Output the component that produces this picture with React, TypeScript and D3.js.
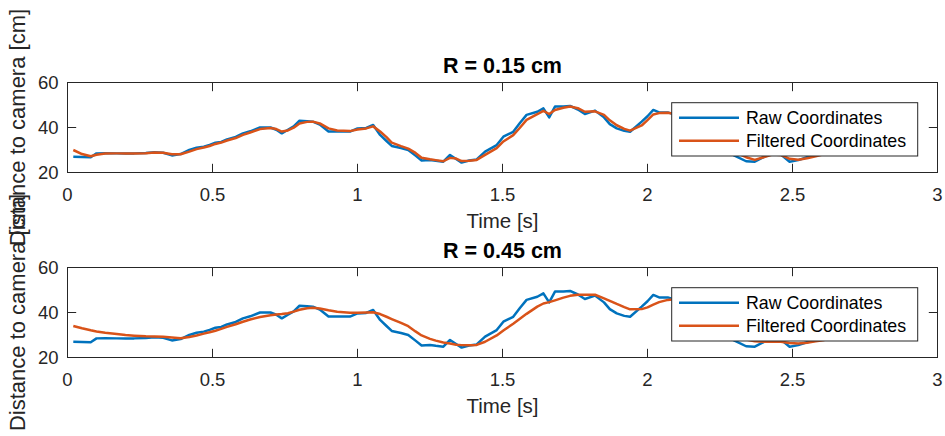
import React from "react";
import * as d3 from "d3";

const times = [0.02,0.05,0.08,0.10,0.13,0.17,0.20,0.23,0.27,0.30,0.33,0.36,0.39,0.42,0.445,0.47,0.49,0.51,0.53,0.55,0.58,0.605,0.63,0.664,0.70,0.72,0.739,0.76,0.78,0.80,0.826,0.846,0.87,0.90,0.93,0.974,1.0,1.03,1.054,1.078,1.10,1.118,1.15,1.175,1.20,1.221,1.25,1.27,1.296,1.319,1.34,1.359,1.385,1.411,1.44,1.48,1.503,1.537,1.56,1.583,1.62,1.641,1.661,1.681,1.71,1.733,1.76,1.784,1.819,1.85,1.87,1.894,1.92,1.94,1.98,2.00,2.02,2.04,2.07,2.10,2.14,2.18,2.22,2.26,2.30,2.34,2.37,2.40,2.43,2.46,2.49,2.52,2.55,2.58,2.61];

const rawCoords = [27.0,26.9,26.8,28.5,28.6,28.5,28.5,28.5,28.7,29.0,28.8,27.6,28.2,30.0,31.0,31.5,32.3,33.2,33.6,34.7,35.8,37.4,38.3,40.0,40.0,39.0,37.4,39.0,40.5,43.0,42.8,42.6,41.3,38.2,38.2,38.2,39.6,39.8,41.1,36.7,34.0,31.8,30.9,30.0,27.5,25.3,25.6,25.2,24.8,27.8,26.0,24.4,25.3,25.8,29.3,32.2,35.9,38.1,42.0,45.6,47.0,48.5,44.5,49.3,49.3,49.6,48.0,46.0,47.5,44.5,41.5,39.6,38.5,38.1,42.6,45.0,47.8,46.7,46.7,45.5,43.5,40.0,35.0,30.5,27.5,25.0,24.8,26.8,28.5,28.0,24.8,25.5,26.8,27.8,28.8];

const filtered015 = [30.0,28.2,27.2,27.9,28.4,28.5,28.5,28.5,28.6,28.9,28.8,28.1,28.1,29.3,30.4,31.1,31.8,32.7,33.3,34.2,35.3,36.7,37.8,39.3,39.8,39.3,38.2,38.7,39.9,41.8,42.5,42.6,41.8,39.6,38.7,38.4,39.1,39.6,40.5,38.2,35.7,33.3,31.7,30.6,28.7,26.6,25.9,25.5,25.0,26.5,26.2,25.1,25.2,25.6,27.8,30.8,33.8,36.6,39.9,43.4,45.9,47.4,46.0,47.8,48.8,49.3,48.6,47.0,47.2,45.6,43.2,41.0,39.4,38.6,40.9,43.3,45.8,46.4,46.6,45.9,44.4,41.6,37.3,32.7,29.2,26.8,25.6,26.8,28.0,27.8,26.1,25.7,26.3,27.2,28.2];

const filtered045 = [34.0,33.0,32.1,31.6,31.0,30.4,30.0,29.7,29.4,29.3,29.2,28.9,28.6,29.1,29.8,30.6,31.2,31.9,32.7,33.6,34.8,35.9,36.9,38.0,38.8,39.1,39.3,39.7,40.4,41.2,41.9,42.1,41.8,41.0,40.3,39.9,39.9,40.0,40.1,39.3,38.1,37.1,35.4,33.9,31.6,29.8,28.3,27.5,26.7,26.2,25.7,25.5,25.4,25.6,27.0,29.8,32.0,35.0,37.2,39.4,42.6,44.0,44.6,45.4,46.6,47.4,47.9,47.9,47.9,46.3,45.2,43.8,42.4,41.4,41.5,42.3,43.5,44.6,45.6,46.0,45.5,43.8,40.5,36.0,31.5,28.0,27.2,27.0,27.1,27.0,26.4,26.2,26.6,27.2,27.8];

const xTicks = [0, 0.5, 1, 1.5, 2, 2.5, 3];
const yTicks = [20, 40, 60];
const titles = ["R = 0.15 cm", "R = 0.45 cm"];
const legendLabels = ["Raw Coordinates", "Filtered Coordinates"];
const xLabel = "Time [s]";
const yLabel = "Distance to camera [cm]";

const BLUE = "#0072BD";
const ORANGE = "#D95319";
const AX = "#262626";
const FONT = "'Liberation Sans', Arial, Helvetica, sans-serif";

const X0 = 67.5, X1 = 937.5;
const panels = [
  { top: 82.5, bottom: 172.5, title: titles[0], filt: filtered015 },
  { top: 267.5, bottom: 357.5, title: titles[1], filt: filtered045 },
];

function Panel({ top, bottom, title, filt, idx }) {
  const x = d3.scaleLinear().domain([0, 3]).range([X0, X1]);
  const y = d3.scaleLinear().domain([20, 60]).range([bottom, top]);
  const line = d3.line<number>().x((_, i) => x(times[i])).y((d) => y(d));
  const tl = 8.7;
  const midY = (top + bottom) / 2;
  const clipId = `clip${idx}`;
  const lx0 = 671.7, lx1 = 917.7;
  const ly0 = top + 20.2, ly1 = top + 73.5;
  return (
    <g>
      <defs>
        <clipPath id={clipId}>
          <rect x={X0} y={top} width={X1 - X0} height={bottom - top} />
        </clipPath>
      </defs>
      <rect x={X0} y={top} width={X1 - X0} height={bottom - top} fill="white" />
      <g clipPath={`url(#${clipId})`}>
        <path d={line(rawCoords) || ""} fill="none" stroke={BLUE} strokeWidth={2.5} strokeLinejoin="round" />
        <path d={line(filt) || ""} fill="none" stroke={ORANGE} strokeWidth={2.5} strokeLinejoin="round" />
      </g>
      {xTicks.map((t) => (
        <g key={"xt" + t}>
          <line x1={x(t)} x2={x(t)} y1={bottom} y2={bottom - tl} stroke={AX} strokeWidth={1} />
          <line x1={x(t)} x2={x(t)} y1={top} y2={top + tl} stroke={AX} strokeWidth={1} />
          <text x={x(t)} y={bottom + 28} textAnchor="middle" fontSize={18.5} fill={AX} fontFamily={FONT}>{String(t)}</text>
        </g>
      ))}
      {yTicks.map((t) => (
        <g key={"yt" + t}>
          <line x1={X0} x2={X0 + tl} y1={y(t)} y2={y(t)} stroke={AX} strokeWidth={1} />
          <line x1={X1} x2={X1 - tl} y1={y(t)} y2={y(t)} stroke={AX} strokeWidth={1} />
          <text x={58.5} y={y(t) + 6.6} textAnchor="end" fontSize={18.5} fill={AX} fontFamily={FONT}>{String(t)}</text>
        </g>
      ))}
      <rect x={X0} y={top} width={X1 - X0} height={bottom - top} fill="none" stroke={AX} strokeWidth={1} />
      <text x={(X0 + X1) / 2} y={top - 9.5} textAnchor="middle" fontSize={21.5} fontWeight="bold" fill="#000" fontFamily={FONT}>{title}</text>
      <text x={(X0 + X1) / 2} y={bottom + 55.5} textAnchor="middle" fontSize={20.5} fill={AX} fontFamily={FONT}>{xLabel}</text>
      <text transform={`translate(24.5,${midY}) rotate(-90)`} textAnchor="middle" fontSize={22} fill={AX} fontFamily={FONT}>{yLabel}</text>
      <rect x={lx0} y={ly0} width={lx1 - lx0} height={ly1 - ly0} fill="white" stroke={AX} strokeWidth={1} />
      {legendLabels.map((lab, i) => {
        const cy = ly0 + 15 + i * 23;
        return (
          <g key={lab}>
            <line x1={679} x2={739} y1={cy} y2={cy} stroke={i === 0 ? BLUE : ORANGE} strokeWidth={2.5} />
            <text x={746} y={cy + 6.2} fontSize={17.8} fill="#000" fontFamily={FONT}>{lab}</text>
          </g>
        );
      })}
    </g>
  );
}

export default function App() {
  return (
    <svg width={945} height={436} style={{ position: "absolute", left: 0, top: 0, background: "white" }}>
      <rect x={0} y={0} width={945} height={436} fill="white" />
      {panels.map((p, i) => (
        <Panel key={i} idx={i} {...p} />
      ))}
    </svg>
  );
}
